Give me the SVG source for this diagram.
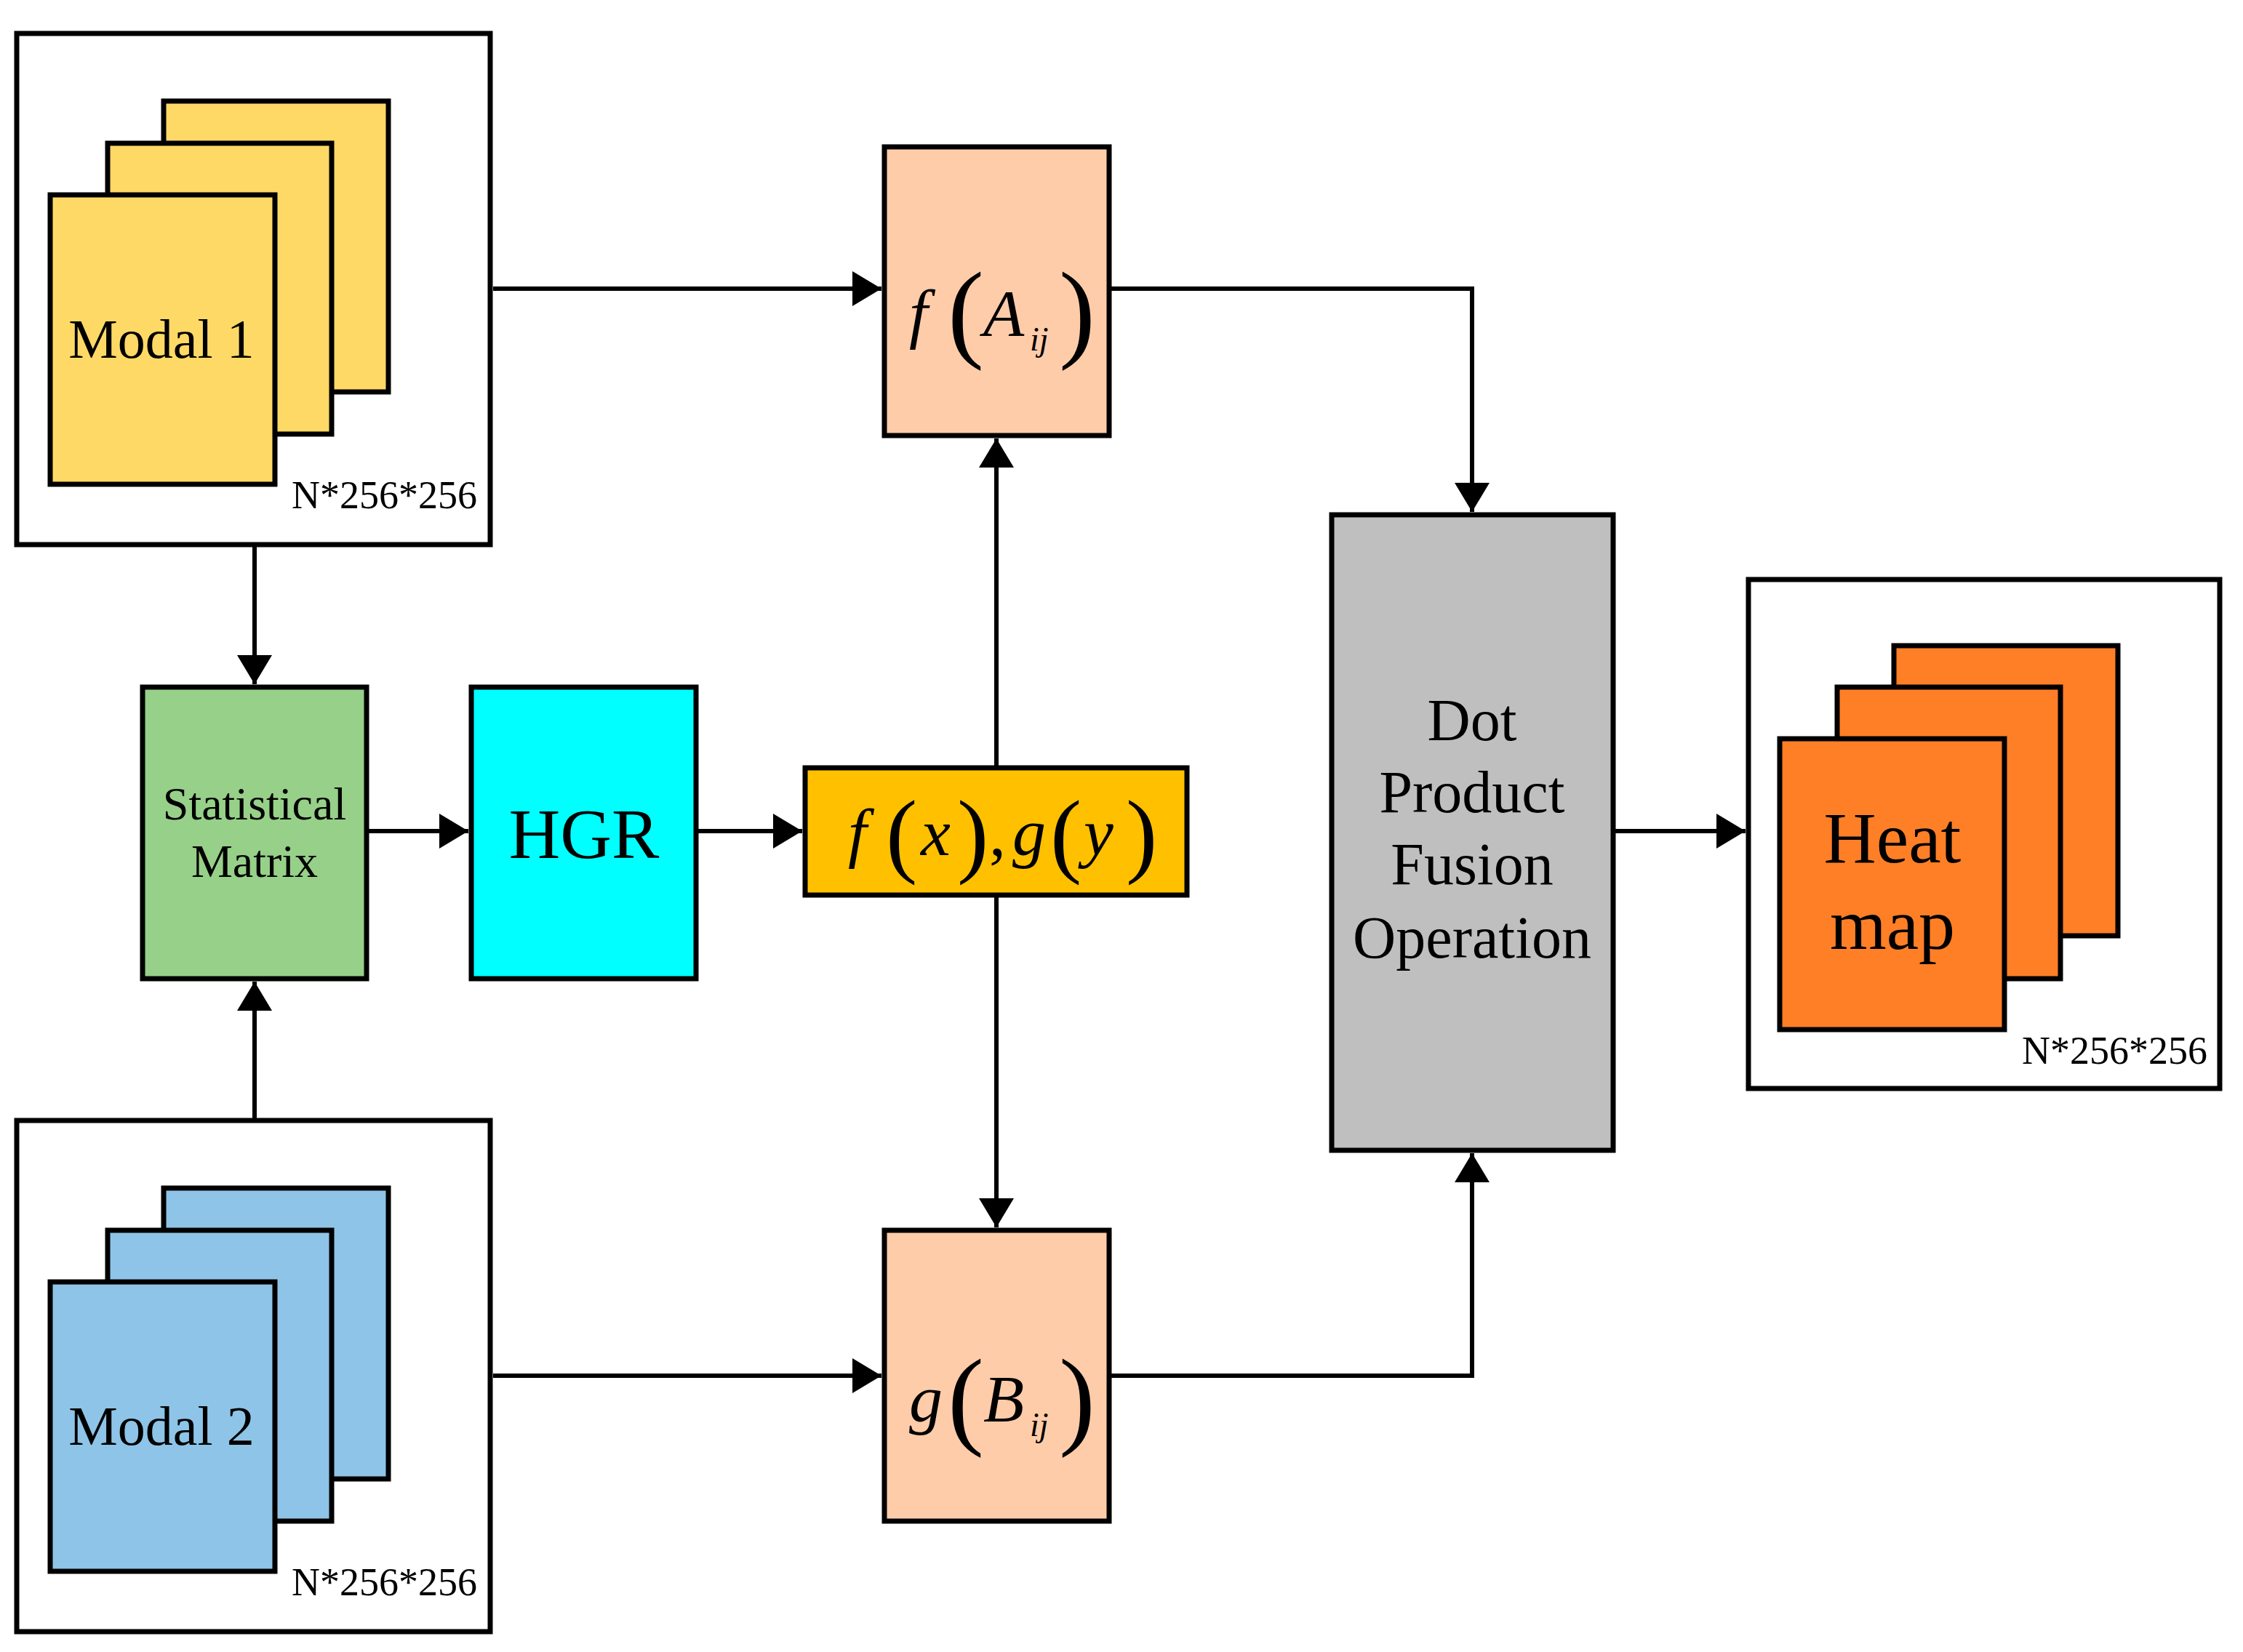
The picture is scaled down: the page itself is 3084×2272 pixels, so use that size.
<svg xmlns="http://www.w3.org/2000/svg" width="3084" height="2272" viewBox="0 0 3084 2272">
<style>
.b{stroke:#000;stroke-width:7;}
.t{font-family:"Liberation Serif",serif;fill:#000;}
.m{font-family:"Liberation Serif",serif;font-style:italic;fill:#000;}
.c{fill:none;stroke:#000;stroke-width:6;}
</style>
<defs>
<marker id="ah" markerUnits="userSpaceOnUse" markerWidth="40" markerHeight="48" refX="40" refY="24" orient="auto">
<path d="M0,0 L40,24 L0,48 Z" fill="#000"/>
</marker>
</defs>
<rect width="3084" height="2272" fill="#fff"/>
<g id="modal1">
<rect class="b" x="23" y="46" width="651" height="703" fill="#fff"/>
<rect class="b" x="225" y="139" width="309" height="400" fill="#FFD966"/>
<rect class="b" x="148" y="197" width="308" height="400" fill="#FFD966"/>
<rect class="b" x="69" y="268" width="309" height="398" fill="#FFD966"/>
<text class="t" x="222" y="492" font-size="76" text-anchor="middle">Modal 1</text>
<text class="t" x="656" y="699" font-size="54" text-anchor="end">N*256*256</text>
</g>
<g id="modal2">
<rect class="b" x="23" y="1541" width="651" height="703" fill="#fff"/>
<rect class="b" x="225" y="1634" width="309" height="400" fill="#8EC4E7"/>
<rect class="b" x="148" y="1692" width="308" height="400" fill="#8EC4E7"/>
<rect class="b" x="69" y="1763" width="309" height="398" fill="#8EC4E7"/>
<text class="t" x="222" y="1987" font-size="76" text-anchor="middle">Modal 2</text>
<text class="t" x="656" y="2194" font-size="54" text-anchor="end">N*256*256</text>
</g>
<g id="stat">
<rect class="b" x="196" y="945" width="308" height="401" fill="#97D089"/>
<text class="t" x="350" y="1127" font-size="64" text-anchor="middle">Statistical</text>
<text class="t" x="350" y="1206" font-size="64" text-anchor="middle">Matrix</text>
</g>
<g id="hgr">
<rect class="b" x="648" y="945" width="309" height="401" fill="#00FFFF"/>
<text class="t" x="803" y="1180" font-size="98" text-anchor="middle">HGR</text>
</g>
<g id="fxgy">
<rect class="b" x="1107" y="1056" width="525" height="175" fill="#FFC000"/>
<text class="m" x="1166" y="1176" font-size="92">f</text>
<text class="t" x="1218" y="1190" font-size="130">(</text>
<text class="m" x="1266" y="1176" font-size="92">x</text>
<text class="t" x="1316" y="1190" font-size="130">)</text>
<text class="t" x="1360" y="1176" font-size="92">,</text>
<text class="m" x="1392" y="1176" font-size="92">g</text>
<text class="t" x="1444" y="1190" font-size="130">(</text>
<text class="m" x="1490" y="1176" font-size="92">y</text>
<text class="t" x="1548" y="1190" font-size="130">)</text>
</g>
<g id="fA">
<rect class="b" x="1216" y="202" width="309" height="397" fill="#FFCCAA"/>
<text class="m" x="1250" y="462" font-size="92">f</text>
<text class="t" x="1303" y="478" font-size="150">(</text>
<text class="m" x="1352" y="462" font-size="92">A</text>
<text class="m" x="1416" y="482" font-size="46">ij</text>
<text class="t" x="1456" y="478" font-size="150">)</text>
</g>
<g id="gB">
<rect class="b" x="1216" y="1692" width="309" height="400" fill="#FFCCAA"/>
<text class="m" x="1250" y="1955" font-size="92">g</text>
<text class="t" x="1303" y="1973" font-size="150">(</text>
<text class="m" x="1352" y="1955" font-size="92">B</text>
<text class="m" x="1416" y="1975" font-size="46">ij</text>
<text class="t" x="1456" y="1973" font-size="150">)</text>
</g>
<g id="dot">
<rect class="b" x="1831" y="708" width="387" height="874" fill="#BFBFBF"/>
<text class="t" x="2024" y="1018" font-size="82" text-anchor="middle">Dot</text>
<text class="t" x="2024" y="1117" font-size="82" text-anchor="middle">Product</text>
<text class="t" x="2024" y="1216" font-size="82" text-anchor="middle">Fusion</text>
<text class="t" x="2024" y="1317" font-size="82" text-anchor="middle">Operation</text>
</g>
<g id="heat">
<rect class="b" x="2404" y="797" width="648" height="700" fill="#fff"/>
<rect class="b" x="2604" y="888" width="308" height="399" fill="#FF7F27"/>
<rect class="b" x="2526" y="945" width="307" height="401" fill="#FF7F27"/>
<rect class="b" x="2447" y="1016" width="309" height="400" fill="#FF7F27"/>
<text class="t" x="2602" y="1186" font-size="100" text-anchor="middle">Heat</text>
<text class="t" x="2602" y="1305" font-size="100" text-anchor="middle">map</text>
<text class="t" x="3035" y="1463" font-size="54" text-anchor="end">N*256*256</text>
</g>
<g id="connectors">
<path class="c" d="M678,397 H1212" marker-end="url(#ah)"/>
<path class="c" d="M678,1892 H1212" marker-end="url(#ah)"/>
<path class="c" d="M350,752 V941" marker-end="url(#ah)"/>
<path class="c" d="M350,1538 V1350" marker-end="url(#ah)"/>
<path class="c" d="M507,1143 H644" marker-end="url(#ah)"/>
<path class="c" d="M960,1143 H1103" marker-end="url(#ah)"/>
<path class="c" d="M1370,1053 V603" marker-end="url(#ah)"/>
<path class="c" d="M1370,1234 V1688" marker-end="url(#ah)"/>
<path class="c" d="M1528,397 H2024 V704" marker-end="url(#ah)"/>
<path class="c" d="M1528,1892 H2024 V1586" marker-end="url(#ah)"/>
<path class="c" d="M2221,1143 H2400" marker-end="url(#ah)"/>
</g>
</svg>
